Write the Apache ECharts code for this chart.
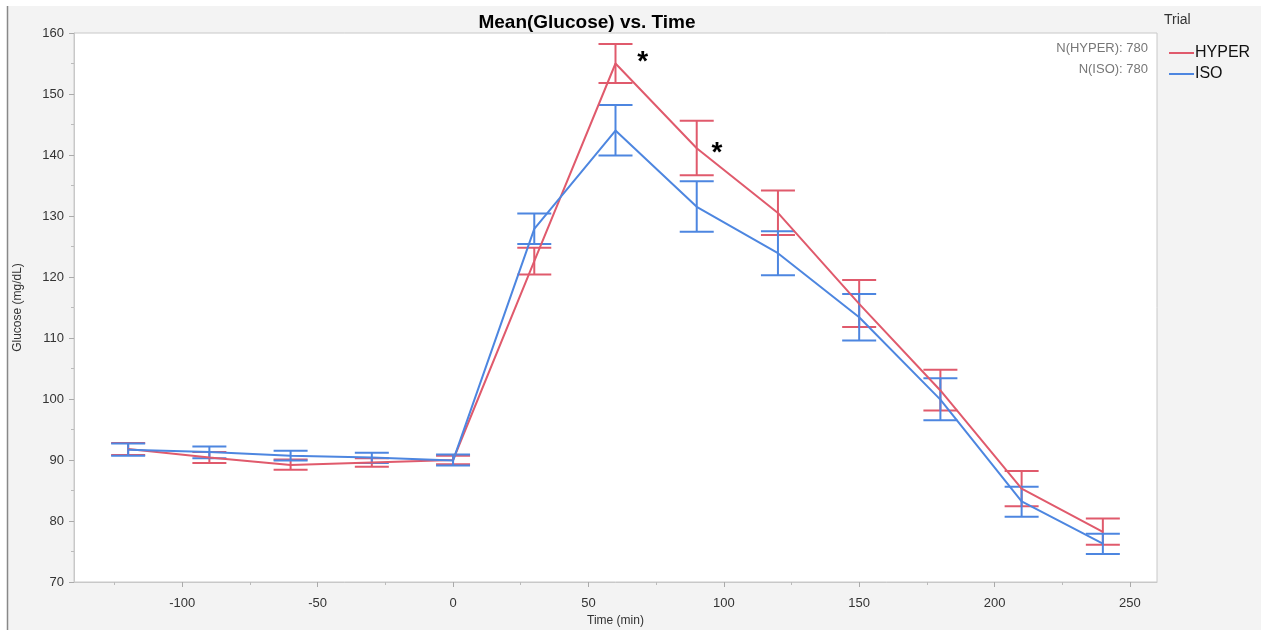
<!DOCTYPE html>
<html>
<head>
<meta charset="utf-8">
<script src="https://cdn.jsdelivr.net/npm/echarts@6/dist/echarts.min.js"></script>
<style>
  html, body { margin: 0; padding: 0; background: #fff; }
  #main { width: 1261px; height: 630px; }
</style>
</head>
<body>
<div id="main"></div>
<script>
// time points (min)
const times = [-120, -90, -60, -30, 0, 30, 60, 90, 120, 150, 180, 210, 240];

// HYPER trial: mean and error bar ends
const hyperMean = [91.8, 90.4, 89.2, 89.6, 90.0, 122.6, 155.0, 141.1, 130.5, 115.6, 101.4, 85.3, 78.2];
const hyperLow  = [90.8, 89.5, 88.4, 88.9, 89.3, 120.4, 151.8, 136.7, 126.9, 111.8, 98.1, 82.4, 76.1];
const hyperHigh = [92.8, 91.3, 90.1, 90.3, 90.7, 124.8, 158.2, 145.6, 134.2, 119.5, 104.8, 88.2, 80.4];

// ISO trial
const isoMean = [91.7, 91.3, 90.7, 90.4, 89.9, 127.9, 144.0, 131.5, 123.9, 113.4, 99.9, 83.2, 76.3];
const isoLow  = [90.7, 90.3, 89.9, 89.5, 89.1, 125.4, 139.9, 127.4, 120.3, 109.6, 96.5, 80.7, 74.6];
const isoHigh = [92.7, 92.2, 91.5, 91.2, 90.9, 130.4, 148.2, 135.7, 127.5, 117.2, 103.4, 85.6, 77.9];

// significance markers [time, glucose]
const sigMarks = [[70, 156.2], [97.5, 141.3]];

const xTicks = [-100, -50, 0, 50, 100, 150, 200, 250];
const xMinorTicks = [-125, -75, -25, 25, 75, 125, 175, 225];

const RED = '#e05a6c';
const BLUE = '#4d86e0';
const FONT = 'Liberation Sans, Arial, sans-serif';

function pairs(ys) {
  return times.map((t, i) => [t, ys[i]]);
}
function bars(lo, hi) {
  return times.map((t, i) => [t, lo[i], hi[i]]);
}

// draws a vertical error bar with caps
function errorBar(color) {
  return function (params, api) {
    const x = api.value(0);
    const top = api.coord([x, api.value(2)]);
    const bot = api.coord([x, api.value(1)]);
    const hw = 17;
    const style = { stroke: color, lineWidth: 2, fill: null };
    return {
      type: 'group',
      children: [
        { type: 'line', shape: { x1: top[0], y1: top[1], x2: bot[0], y2: bot[1] }, style: style },
        { type: 'line', shape: { x1: top[0] - hw, y1: top[1], x2: top[0] + hw, y2: top[1] }, style: style },
        { type: 'line', shape: { x1: bot[0] - hw, y1: bot[1], x2: bot[0] + hw, y2: bot[1] }, style: style }
      ]
    };
  };
}

const chart = echarts.init(document.getElementById('main'));

chart.setOption({
  animation: false,
  backgroundColor: '#f3f3f3',
  textStyle: { fontFamily: FONT },
  title: {
    text: 'Mean(Glucose) vs. Time',
    left: 582,
    top: 8,
    textAlign: 'center',
    textStyle: { fontSize: 19, fontWeight: 'bold', color: '#000' }
  },
  legend: {
    orient: 'vertical',
    left: 1164,
    top: 40,
    icon: 'rect',
    itemWidth: 25,
    itemHeight: 2,
    itemGap: 5,
    data: ['HYPER', 'ISO'],
    textStyle: { fontSize: 16, color: '#111', padding: [0, 0, 0, -4], lineHeight: 16 }
  },
  graphic: [
    { type: 'rect', left: 0, top: 0, shape: { width: 1261, height: 6 }, style: { fill: '#fff' } },
    { type: 'rect', left: 0, top: 0, shape: { width: 7, height: 630 }, style: { fill: '#fff' } },
    { type: 'line', shape: { x1: 7.5, y1: 6, x2: 7.5, y2: 630 }, style: { stroke: '#888', lineWidth: 1.5 } },
    { type: 'text', left: 1164, top: 13, style: { text: 'Trial', fontSize: 14, fill: '#333', fontFamily: FONT } },
    { type: 'text', right: 113, top: 42, style: { text: 'N(HYPER): 780', fontSize: 13, fill: '#777', align: 'right', fontFamily: FONT } },
    { type: 'text', right: 113, top: 63, style: { text: 'N(ISO): 780', fontSize: 13, fill: '#777', align: 'right', fontFamily: FONT } }
  ],
  grid: {
    left: 74,
    right: 104,
    top: 33,
    bottom: 48,
    outerBoundsMode: 'none',
    containLabel: false,
    show: true,
    backgroundColor: '#fff',
    borderColor: '#c8c8c8',
    borderWidth: 1
  },
  xAxis: [
    {
      type: 'value',
      min: -140,
      max: 260,
      name: 'Time (min)',
      nameLocation: 'middle',
      nameGap: 31,
      nameTextStyle: { fontSize: 12, color: '#333' },
      axisLine: { show: true, onZero: false, lineStyle: { color: '#c8c8c8' } },
      axisTick: { show: true, length: 5, lineStyle: { color: '#aaa' }, customValues: xTicks },
      axisLabel: { fontSize: 13, color: '#333', margin: 15, customValues: xTicks },
      splitLine: { show: false }
    },
    {
      type: 'value',
      position: 'bottom',
      min: -140,
      max: 260,
      axisLine: { show: false, onZero: false },
      axisTick: { show: true, length: 3, lineStyle: { color: '#bbb' }, customValues: xMinorTicks },
      axisLabel: { show: false, customValues: xMinorTicks },
      splitLine: { show: false }
    }
  ],
  yAxis: {
    type: 'value',
    min: 70,
    max: 160,
    interval: 10,
    name: 'Glucose (mg/dL)',
    nameLocation: 'middle',
    nameGap: 50,
    nameTextStyle: { fontSize: 12, color: '#333' },
    axisLine: { show: true, onZero: false, lineStyle: { color: '#c8c8c8' } },
    axisTick: { show: true, length: 5, lineStyle: { color: '#aaa' } },
    axisLabel: { fontSize: 13, color: '#333', margin: 10 },
    minorTick: { show: true, splitNumber: 2, length: 3, lineStyle: { color: '#bbb' } },
    splitLine: { show: false }
  },
  series: [
    {
      name: 'HYPER',
      type: 'line',
      data: pairs(hyperMean),
      color: RED,
      showSymbol: false,
      symbol: 'none',
      lineStyle: { width: 2 },
      markPoint: {
        symbol: 'circle',
        symbolSize: 0,
        label: { show: true, formatter: '*', fontSize: 28, fontWeight: 'bold', color: '#000', offset: [0, 6] },
        data: sigMarks.map(c => ({ coord: c }))
      },
      z: 3
    },
    {
      name: 'ISO',
      type: 'line',
      data: pairs(isoMean),
      color: BLUE,
      showSymbol: false,
      symbol: 'none',
      lineStyle: { width: 2 },
      z: 3
    },
    {
      name: 'HYPER',
      type: 'custom',
      data: bars(hyperLow, hyperHigh),
      renderItem: errorBar(RED),
      encode: { x: 0, y: [1, 2] },
      z: 2
    },
    {
      name: 'ISO',
      type: 'custom',
      data: bars(isoLow, isoHigh),
      renderItem: errorBar(BLUE),
      encode: { x: 0, y: [1, 2] },
      z: 2
    }
  ]
});
</script>
</body>
</html>
